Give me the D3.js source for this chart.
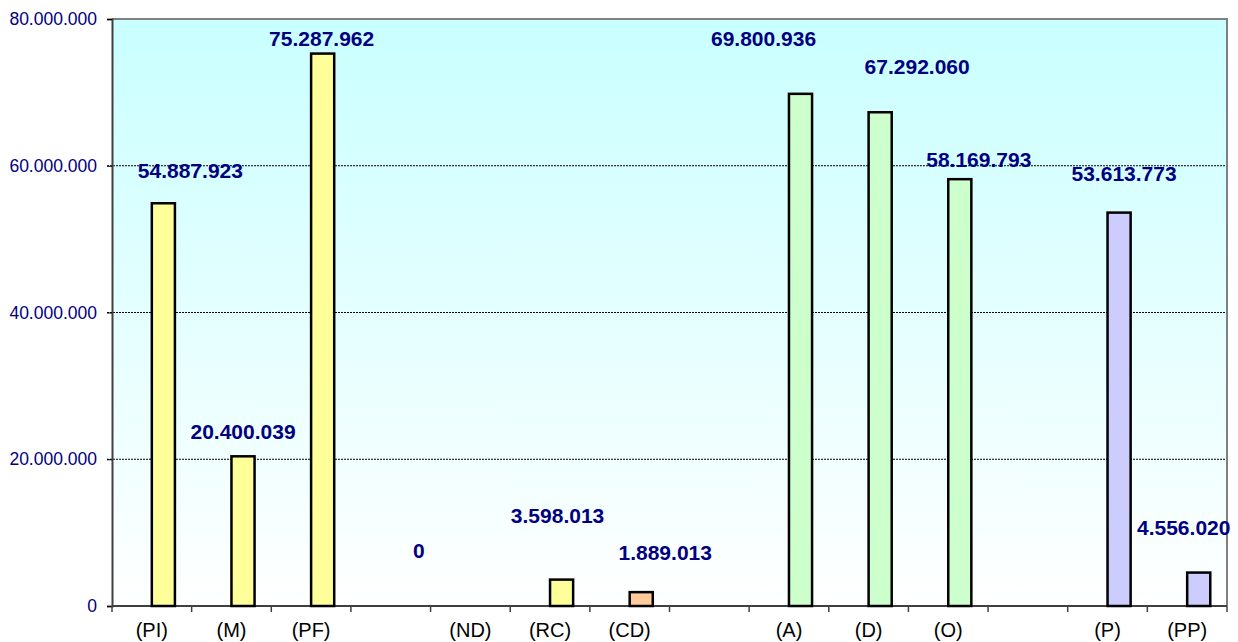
<!DOCTYPE html>
<html>
<head>
<meta charset="utf-8">
<script src="https://cdn.jsdelivr.net/npm/d3@7"></script>
<style>
  body { margin: 0; background: #fff; }
  svg text { font-family: "Liberation Sans", Arial, sans-serif; }
</style>
</head>
<body>
<svg id="chart"></svg>
<script>
(function () {
var categories = ['(PI)', '(M)', '(PF)', '', '(ND)', '(RC)', '(CD)', '', '(A)', '(D)', '(O)', '', '(P)', '(PP)']
var values = [54887923, 20400039, 75287962, null, 0, 3598013, 1889013, null, 69800936, 67292060, 58169793, null, 53613773, 4556020]
var groups = ['y', 'y', 'y', null, 'y', 'y', 'o', null, 'g', 'g', 'g', null, 'b', 'b']
var yTicks = [0, 20000000, 40000000, 60000000, 80000000]

var fills = { y: '#ffff99', o: '#ffcc99', g: '#ccffcc', b: '#ccccff' }

// data labels were dragged around by hand in the original, so nudge them (px)
var labelNudge = [[27, -25], [0, -17], [-1, -8], null, [-63, -48], [-4, -57], [24, -32],
                  null, [-37, -48], [37, -38], [19, -12], null, [5, -32], [-15, -38]]

var W = 1238, H = 642
var left = 112, right = 1227, top = 19, bottom = 606

var svg = d3.select('#chart').attr('width', W).attr('height', H)

var x = d3.scaleBand().domain(d3.range(categories.length)).range([left, right]).padding(0)
var y = d3.scaleLinear().domain([0, 80000000]).range([bottom, top])

var fmt = d3.formatLocale({ decimal: ',', thousands: '.', grouping: [3], currency: ['', ''] }).format(',d')

var defs = svg.append('defs')
var grad = defs.append('linearGradient').attr('id', 'bg').attr('x1', 0).attr('y1', 0).attr('x2', 0).attr('y2', 1)
grad.append('stop').attr('offset', '0%').attr('stop-color', '#c9ffff')
grad.append('stop').attr('offset', '100%').attr('stop-color', '#ffffff')

svg.append('rect')
    .attr('x', left).attr('y', top)
    .attr('width', right - left).attr('height', bottom - top)
    .attr('fill', 'url(#bg)')

// gridlines
svg.append('g')
    .selectAll('line')
    .data(yTicks.filter(d => d > 0 && d < 80000000))
    .enter()
    .append('line')
    .attr('x1', left - 5).attr('x2', right)
    .attr('y1', d => y(d)).attr('y2', d => y(d))
    .attr('stroke', '#000')
    .attr('stroke-width', 1)
    .attr('stroke-dasharray', '2,1')

// frame top and right
svg.append('path')
    .attr('d', 'M' + left + ',' + top + 'H' + right + 'V' + bottom)
    .attr('fill', 'none')
    .attr('stroke', '#808080')
    .attr('stroke-width', 2)

// y axis
var yAxis = svg.append('g')
    .attr('transform', 'translate(' + left + ',0)')
    .call(d3.axisLeft(y).tickValues(yTicks).tickFormat(fmt).tickSize(5).tickPadding(10))
yAxis.select('.domain').attr('stroke', '#404040').attr('stroke-width', 2)
yAxis.selectAll('.tick line').attr('stroke', '#000')
yAxis.selectAll('text')
    .attr('fill', '#000080')
    .style('font-size', '17.5px')

// x axis: ticks on slot boundaries
var bw = x.bandwidth()
svg.append('line')
    .attr('x1', left).attr('x2', right)
    .attr('y1', bottom).attr('y2', bottom)
    .attr('stroke', '#404040').attr('stroke-width', 2)
svg.append('g')
    .selectAll('line')
    .data(d3.range(categories.length + 1))
    .enter()
    .append('line')
    .attr('x1', i => left + i * bw).attr('x2', i => left + i * bw)
    .attr('y1', bottom).attr('y2', bottom + 6)
    .attr('stroke', '#404040').attr('stroke-width', 1.5)
svg.append('g')
    .selectAll('text')
    .data(categories)
    .enter()
    .append('text')
    .attr('x', (d, i) => x(i) + bw / 2)
    .attr('y', 637)
    .attr('text-anchor', 'middle')
    .style('font-size', '20px')
    .attr('fill', '#000')
    .text(d => d)

// bars (second slot of a two-series cluster)
var barW = bw * 0.29
var idx = d3.range(values.length).filter(i => values[i] !== null)

svg.append('g')
    .selectAll('rect')
    .data(idx)
    .enter()
    .append('rect')
    .attr('x', i => x(i) + bw / 2)
    .attr('y', i => y(values[i]))
    .attr('width', barW)
    .attr('height', i => bottom - y(values[i]))
    .attr('fill', i => fills[groups[i]])
    .attr('stroke', '#000')
    .attr('stroke-width', 2.5)
    .attr('display', i => values[i] > 0 ? null : 'none')

svg.append('g')
    .selectAll('text')
    .data(idx)
    .enter()
    .append('text')
    .attr('x', i => x(i) + bw / 2 + barW / 2 + labelNudge[i][0])
    .attr('y', i => y(values[i]) + labelNudge[i][1])
    .attr('text-anchor', 'middle')
    .attr('fill', '#000080')
    .style('font-size', '21px')
    .style('font-weight', 'bold')
    .text(i => fmt(values[i]))
})();
</script>
</body>
</html>
